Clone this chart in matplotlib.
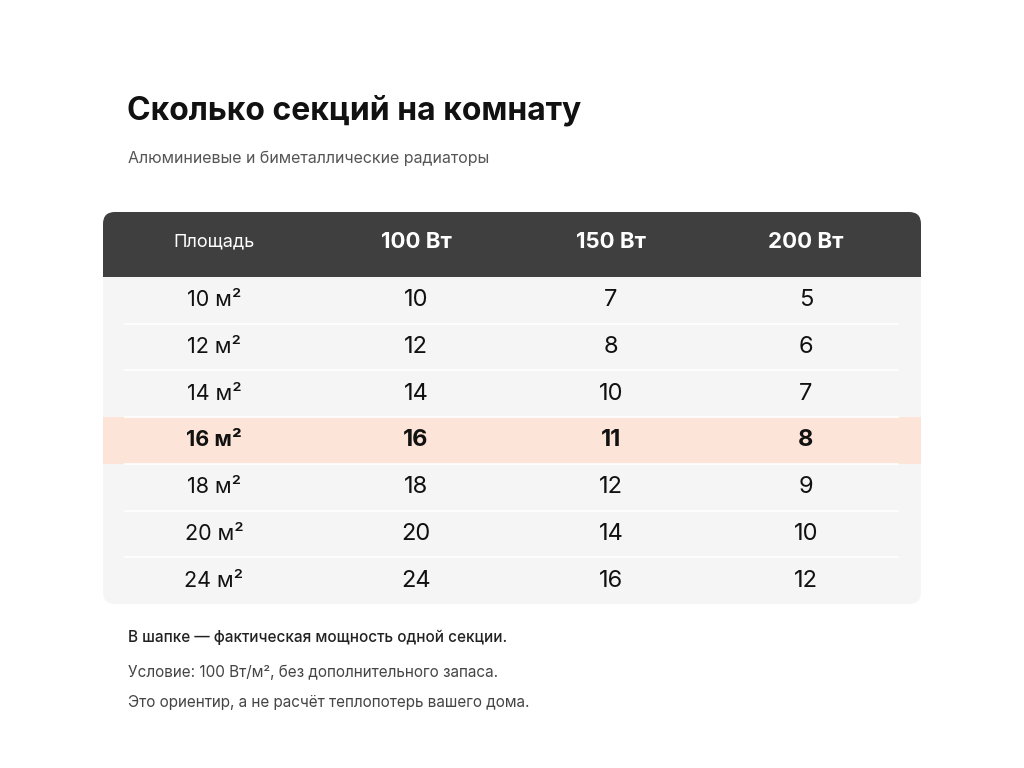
import matplotlib.pyplot as plt
from matplotlib.patches import FancyBboxPatch, Rectangle

plt.rcParams["font.family"] = ["Inter", "DejaVu Sans"]

title = "Сколько секций на комнату"
subtitle = "Алюминиевые и биметаллические радиаторы"
headers = ["Площадь", "100 Вт", "150 Вт", "200 Вт"]
areas = ["10 м²", "12 м²", "14 м²", "16 м²", "18 м²", "20 м²", "24 м²"]
w100 = [10, 12, 14, 16, 18, 20, 24]
w150 = [7, 8, 10, 11, 12, 14, 16]
w200 = [5, 6, 7, 8, 9, 10, 12]
highlight = "16 м²"
notes = ["В шапке — фактическая мощность одной секции.",
         "Условие: 100 Вт/м², без дополнительного запаса.",
         "Это ориентир, а не расчёт теплопотерь вашего дома."]

fig = plt.figure(figsize=(10.24, 7.68), dpi=100)
ax = fig.add_axes([0, 0, 1, 1])
ax.set_xlim(0, 1024)
ax.set_ylim(768, 0)
ax.axis("off")

x0, x1 = 103, 921
head_top, head_bot = 212, 277
row_h = 46.7
body_bot = head_bot + row_h * len(areas)
col_x = [214, 416, 611, 806]

# body background (rounded) and header (rounded top)
ax.add_patch(FancyBboxPatch((x0, head_top), x1 - x0, body_bot - head_top,
                            boxstyle="round,pad=0,rounding_size=12",
                            fc="#f5f5f5", ec="none"))
ax.add_patch(FancyBboxPatch((x0, head_top), x1 - x0, head_bot - head_top,
                            boxstyle="round,pad=0,rounding_size=12",
                            fc="#3f3f3f", ec="none"))
ax.add_patch(Rectangle((x0, head_top + 20), x1 - x0, head_bot - head_top - 20,
                       fc="#3f3f3f", ec="none"))

for j, h in enumerate(headers):
    ax.text(col_x[j], 242, h, ha="center", va="center", color="white",
            fontsize=13 if j == 0 else 16, fontweight="normal" if j == 0 else "bold")

for i, a in enumerate(areas):
    top = head_bot + i * row_h
    yc = top + row_h / 2
    hl = a == highlight
    if hl:
        ax.add_patch(Rectangle((x0, top), x1 - x0, row_h, fc="#fde4d8", ec="none"))
    if i > 0:
        ax.plot([125, 898], [top, top], color="white", lw=1.2)
    vals = [a, w100[i], w150[i], w200[i]]
    for j, v in enumerate(vals):
        ax.text(col_x[j], yc, str(v), ha="center", va="center", color="#111111",
                fontsize=17 if j else 15.5, fontweight="bold" if hl else "normal")

ax.text(127, 111, title, ha="left", va="center", fontsize=23, fontweight="bold", color="#111111")
ax.text(128, 158, subtitle, ha="left", va="center", fontsize=11.5, color="#555555")

for k, (n, y) in enumerate(zip(notes, [637, 672, 702])):
    ax.text(128, y, n, ha="left", va="center", fontsize=11,
            color="#222222" if k == 0 else "#444444",
            fontweight="medium" if k == 0 else "normal")

fig.savefig("out.png", dpi=100, facecolor="white")
